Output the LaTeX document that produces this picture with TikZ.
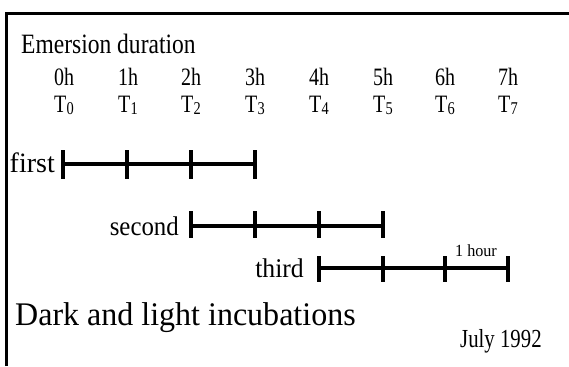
\documentclass[tikz,border=0pt]{standalone}
\usepackage{fontspec}
\usepackage{graphicx}
\setmainfont{Liberation Serif}
\tikzset{
  bar/.style={line width=3.4pt},
  tick/.style={line width=3.2pt},
  frame/.style={line width=3.2pt},
  hlab/.style={inner sep=0pt, anchor=base, font=\fontsize{25}{27}\selectfont},
  rowlab/.style={inner sep=0pt, anchor=base east, font=\fontsize{27}{30}\selectfont},
}
\newcommand{\Tsub}[1]{T\kern0.5pt\raisebox{-0.08em}{\fontsize{18}{19}\selectfont #1}}
\newcommand{\sx}[2]{\scalebox{#1}[1]{#2}}
\begin{document}
\begin{tikzpicture}[x=1pt,y=-1pt]
\useasboundingbox (0,0) rectangle (569,366);
% frame
\coordinate (fa) at (6.5,366);
\coordinate (fb) at (6.5,13.5);
\coordinate (fc) at (569,13.5);
\draw[frame] (fa) -- (fb) -- (fc);
% title
\node[inner sep=0pt, anchor=base west, font=\fontsize{28}{30}\selectfont] (title) at (21,54) {\sx{0.84}{Emersion duration}};
% header labels
\foreach \i/\x in {0/64,1/128,2/191,3/255,4/319,5/383,6/445,7/508}{
  \node[hlab] (h\i) at (\x,86) {\sx{0.8}{\i h}};
  \node[hlab] (t\i) at (\x,113) {\sx{0.8}{\Tsub{\i}}};
}
% first
\foreach \i/\x in {0/63,1/127,2/191,3/255}{\coordinate (a\i) at (\x,164);
  \draw[tick] ([yshift=14pt]a\i) -- ([yshift=-15pt]a\i);}
\draw[bar] (a0) -- (a3);
\node[rowlab, font=\fontsize{28}{30}\selectfont] (first) at (55,172) {first};
% second
\foreach \i/\x in {0/191,1/255,2/319,3/383}{\coordinate (b\i) at (\x,226);
  \draw[tick] ([yshift=15pt]b\i) -- ([yshift=-12pt]b\i);}
\draw[bar] (b0) -- (b3);
\node[rowlab] (second) at (179,235) {\sx{0.92}{second}};
% third
\foreach \i/\x in {0/319,1/383,2/445,3/508}{\coordinate (c\i) at (\x,268);
  \draw[tick] ([yshift=12pt]c\i) -- ([yshift=-14pt]c\i);}
\draw[bar] (c0) -- (c3);
\node[rowlab] (third) at (304,277) {\sx{0.95}{third}};
\node[inner sep=0pt, anchor=base, font=\fontsize{17}{18}\selectfont] (hour) at (476,256) {\sx{0.95}{1 hour}};
% bottom texts
\node[inner sep=0pt, anchor=base west, font=\fontsize{33}{35}\selectfont] (dark) at (15,325) {\sx{0.97}{Dark and light incubations}};
\node[inner sep=0pt, anchor=base west, font=\fontsize{26}{28}\selectfont] (july) at (460,347) {\sx{0.8}{July 1992}};
\end{tikzpicture}
\end{document}
